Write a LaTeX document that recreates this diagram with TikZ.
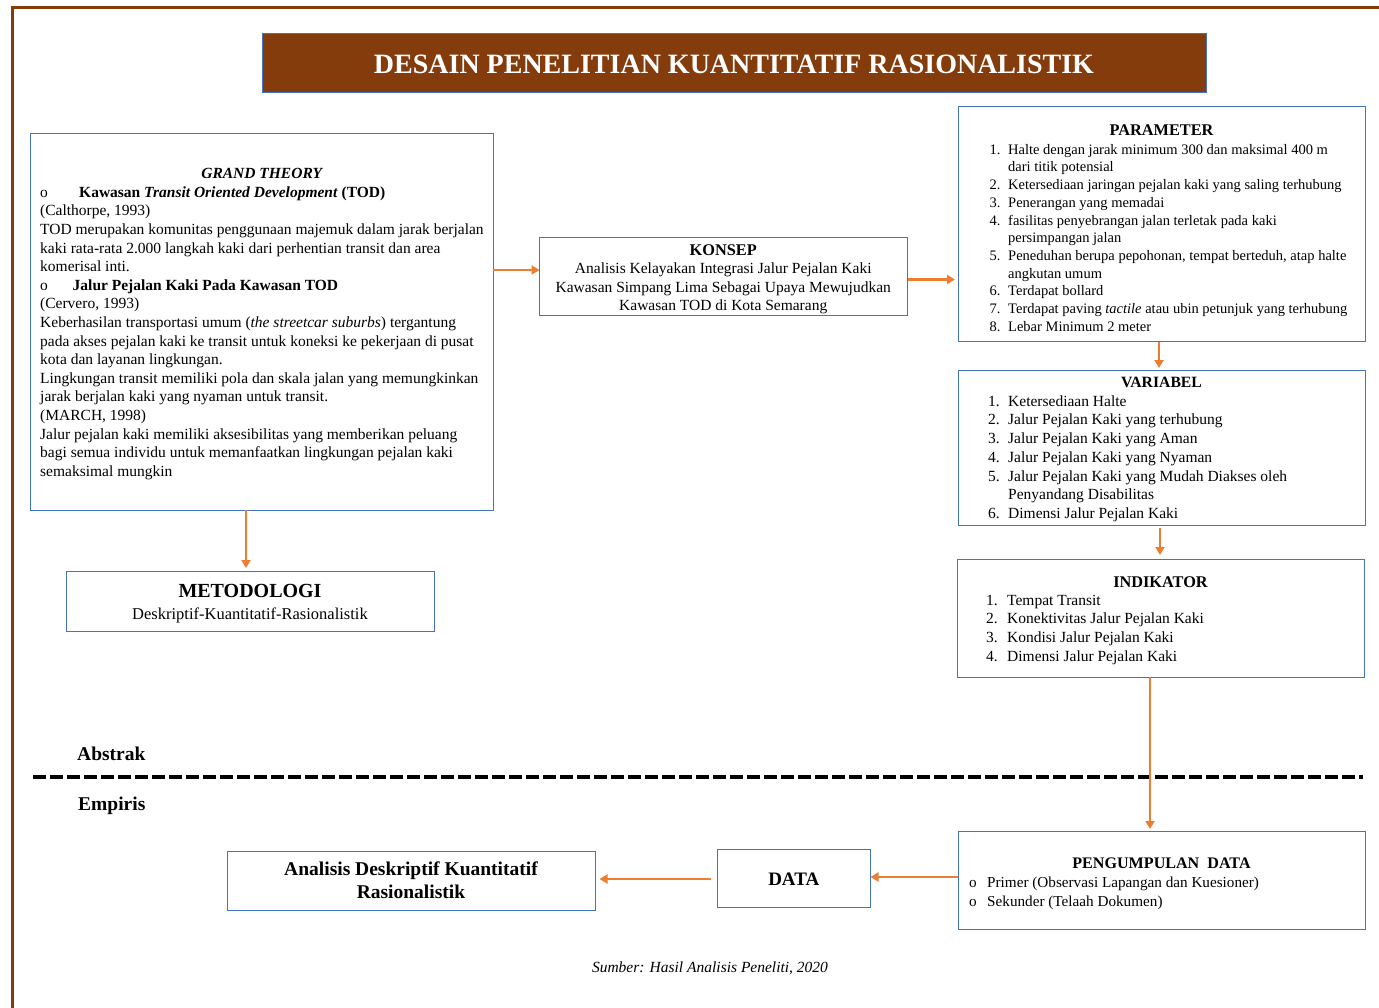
\documentclass[tikz,border=0pt]{standalone}
\usepackage{fontspec}
\setmainfont{Liberation Serif}
\usetikzlibrary{arrows.meta}
\definecolor{brn}{HTML}{843C0C}
\definecolor{bbl}{HTML}{4472C4}
\definecolor{org}{HTML}{ED7D31}
\newcommand\topstr[1][14pt]{\rule{0pt}{#1}}
\newcommand\fsz[2]{\fontsize{#1}{#2}\selectfont}
\newcommand\nb[2][18.5pt]{\makebox[#1][l]{#2}}
\begin{document}
\begin{tikzpicture}[x=1pt,y=-1pt,
  bx/.style={draw=bbl, line width=1pt, inner sep=0pt, outer sep=0pt},
  arr/.style={draw=org, line width=2.4pt, -{Triangle[width=9pt,length=8pt]}},
  tl/.style={inner sep=0pt, anchor=north west, align=left},
  tc/.style={inner sep=0pt, anchor=base, align=center},
  tn/.style={inner sep=0pt, anchor=north, align=center},
]
\useasboundingbox (0,0) rectangle (1379,1008);
\fill[white] (0,0) rectangle (1379,1008);

% outer frame
\coordinate (f1) at (12.5,1008);
\coordinate (f2) at (12.5,8);
\coordinate (f3) at (1379,8);
\draw[brn, line width=3pt] (f1) -- (f2) -- (f3);

% title
\node[bx, fill=brn, minimum width=944pt, minimum height=59pt] (title) at (734,63) {};
\node[tc, text=white, font=\fsz{28}{30}\bfseries] (titleT) at (734,74) {DESAIN PENELITIAN KUANTITATIF RASIONALISTIK};

% grand theory
\node[bx, minimum width=462.5pt, minimum height=376pt] (gt) at (261.75,322) {};
\node[tl, font=\fsz{15.5}{18.6}] (gtT) at (40,164.5) {\topstr\makebox[443pt]{\bfseries\itshape GRAND THEORY}\\
\nb[39pt]{o}\textbf{Kawasan \textit{Transit Oriented Development} (TOD)}\\
(Calthorpe, 1993)\\
TOD merupakan komunitas penggunaan majemuk dalam jarak berjalan\\
kaki rata-rata 2.000 langkah kaki dari perhentian transit dan area\\
komerisal inti.\\
\nb[32.5pt]{o}\textbf{Jalur Pejalan Kaki Pada Kawasan TOD}\\
(Cervero, 1993)\\
Keberhasilan transportasi umum (\textit{the streetcar suburbs}) tergantung\\
pada akses pejalan kaki ke transit untuk koneksi ke pekerjaan di pusat\\
kota dan layanan lingkungan.\\
Lingkungan transit memiliki  pola dan skala jalan yang memungkinkan\\
jarak berjalan kaki yang nyaman untuk transit.\\
(MARCH, 1998)\\
Jalur pejalan kaki memiliki  aksesibilitas  yang memberikan peluang\\
bagi semua individu  untuk memanfaatkan lingkungan  pejalan kaki\\
semaksimal mungkin};

% metodologi
\node[bx, minimum width=368pt, minimum height=59.5pt] (met) at (250,601.25) {};
\node[tn, font=\fsz{16.5}{22.5}] (metT) at (250,582) {\topstr[15pt]{\fsz{20}{22.5}\bfseries METODOLOGI}\\Deskriptif-Kuantitatif-Rasionalistik};

% konsep
\node[bx, minimum width=367.5pt, minimum height=78pt] (kon) at (723.25,277) {};
\node[tn, font=\fsz{15.5}{18.5}] (konT) at (723.25,241) {\topstr{\fsz{16.3}{18.5}\bfseries KONSEP}\\Analisis  Kelayakan Integrasi Jalur Pejalan Kaki\\Kawasan Simpang Lima  Sebagai Upaya Mewujudkan\\Kawasan TOD di Kota Semarang};

% parameter
\node[bx, minimum width=407pt, minimum height=235pt] (par) at (1161.5,224.5) {};
\node[tc, font=\fsz{16.3}{18}\bfseries] (parT) at (1161.5,136) {PARAMETER};
\node[tl, font=\fsz{14.5}{17.7}] (parL) at (989.5,140) {\topstr\nb{1.}Halte  dengan jarak  minimum  300 dan maksimal 400 m\\
\nb{}dari titik potensial\\
\nb{2.}Ketersediaan jaringan pejalan  kaki yang saling  terhubung\\
\nb{3.}Penerangan yang memadai\\
\nb{4.}fasilitas penyebrangan jalan terletak pada kaki\\
\nb{}persimpangan jalan\\
\nb{5.}Peneduhan berupa pepohonan, tempat berteduh, atap halte\\
\nb{}angkutan umum\\
\nb{6.}Terdapat bollard\\
\nb{7.}Terdapat paving \textit{tactile} atau ubin petunjuk yang terhubung\\
\nb{8.}Lebar Minimum 2 meter};

% variabel
\node[bx, minimum width=407pt, minimum height=155pt] (var) at (1161.5,447.5) {};
\node[tc, font=\fsz{15.7}{18}\bfseries] (varT) at (1161.5,387.5) {VARIABEL};
\node[tl, font=\fsz{15.5}{18.7}] (varL) at (988,392) {\topstr\nb[20pt]{1.}Ketersediaan Halte\\
\nb[20pt]{2.}Jalur Pejalan Kaki yang terhubung\\
\nb[20pt]{3.}Jalur Pejalan Kaki yang Aman\\
\nb[20pt]{4.}Jalur Pejalan Kaki yang Nyaman\\
\nb[20pt]{5.}Jalur Pejalan Kaki yang Mudah Diakses oleh\\
\nb[20pt]{}Penyandang Disabilitas\\
\nb[20pt]{6.}Dimensi  Jalur Pejalan Kaki};

% indikator
\node[bx, minimum width=407pt, minimum height=118pt] (ind) at (1160.5,618) {};
\node[tc, font=\fsz{16.3}{18}\bfseries] (indT) at (1160.5,587) {INDIKATOR};
\node[tl, font=\fsz{15.5}{18.7}] (indL) at (986,591) {\topstr\nb[21pt]{1.}Tempat Transit\\
\nb[21pt]{2.}Konektivitas  Jalur  Pejalan Kaki\\
\nb[21pt]{3.}Kondisi  Jalur  Pejalan Kaki\\
\nb[21pt]{4.}Dimensi  Jalur  Pejalan Kaki};

% pengumpulan data
\node[bx, minimum width=407pt, minimum height=98pt] (pd) at (1161.5,880) {};
\node[tc, font=\fsz{16.1}{18}\bfseries] (pdT) at (1161.5,868) {PENGUMPULAN\ \ DATA};
\node[tl, font=\fsz{15.2}{19}] (pdL) at (969,873) {\topstr\nb[18pt]{o}Primer (Observasi Lapangan dan Kuesioner)\\
\nb[18pt]{o}Sekunder  (Telaah Dokumen)};

% data
\node[bx, minimum width=153.5pt, minimum height=58pt] (data) at (793.75,878) {};
\node[tc, font=\fsz{19}{22}\bfseries] (dataT) at (793.75,885) {DATA};

% analisis
\node[bx, minimum width=368pt, minimum height=59pt] (ana) at (411,880.5) {};
\node[tn, font=\fsz{19.5}{23}\bfseries] (anaT) at (411,860) {\topstr[15pt]Analisis Deskriptif Kuantitatif\\Rasionalistik};

% abstrak / empiris
\node[inner sep=0pt, anchor=base west, font=\fsz{19.5}{22}\bfseries] (abs) at (77,760) {Abstrak};
\node[inner sep=0pt, anchor=base west, font=\fsz{19.5}{22}\bfseries] (emp) at (78,810) {Empiris};
\coordinate (dl) at (33,777);
\coordinate (dr) at (1363,777);
\draw[line width=4.5pt, dash pattern=on 13pt off 4pt] (dl) -- (dr);

% source
\node[tc, font=\fsz{15.5}{18}\itshape] (src) at (710,972) {Sumber: Hasil Analisis Peneliti, 2020};

% arrows
\draw[arr] ([yshift=52pt]gt.east) -- ([yshift=7pt]kon.west);
\draw[arr] ([xshift=1pt,yshift=-2.5pt]kon.east) -- ([xshift=-3pt,yshift=-55pt]par.west);
\draw[arr] ([xshift=-15.75pt]gt.south) -- ([xshift=-4pt,yshift=3.5pt]met.north);
\draw[arr] ([xshift=-2.5pt]par.south) -- ([xshift=-2.5pt,yshift=2pt]var.north);
\draw[arr] ([xshift=-1.5pt,yshift=-3pt]var.south) -- ([xshift=-0.5pt,yshift=4pt]ind.north);
\draw[arr] ([xshift=-10.5pt]ind.south) -- ([xshift=-11.5pt,yshift=2pt]pd.north);
\draw[arr] ([yshift=3pt]pd.west) -- ([yshift=1pt]data.east);
\draw[arr] ([xshift=-6pt,yshift=-1pt]data.west) -- ([xshift=4.5pt,yshift=1.5pt]ana.east);
\end{tikzpicture}
\end{document}
